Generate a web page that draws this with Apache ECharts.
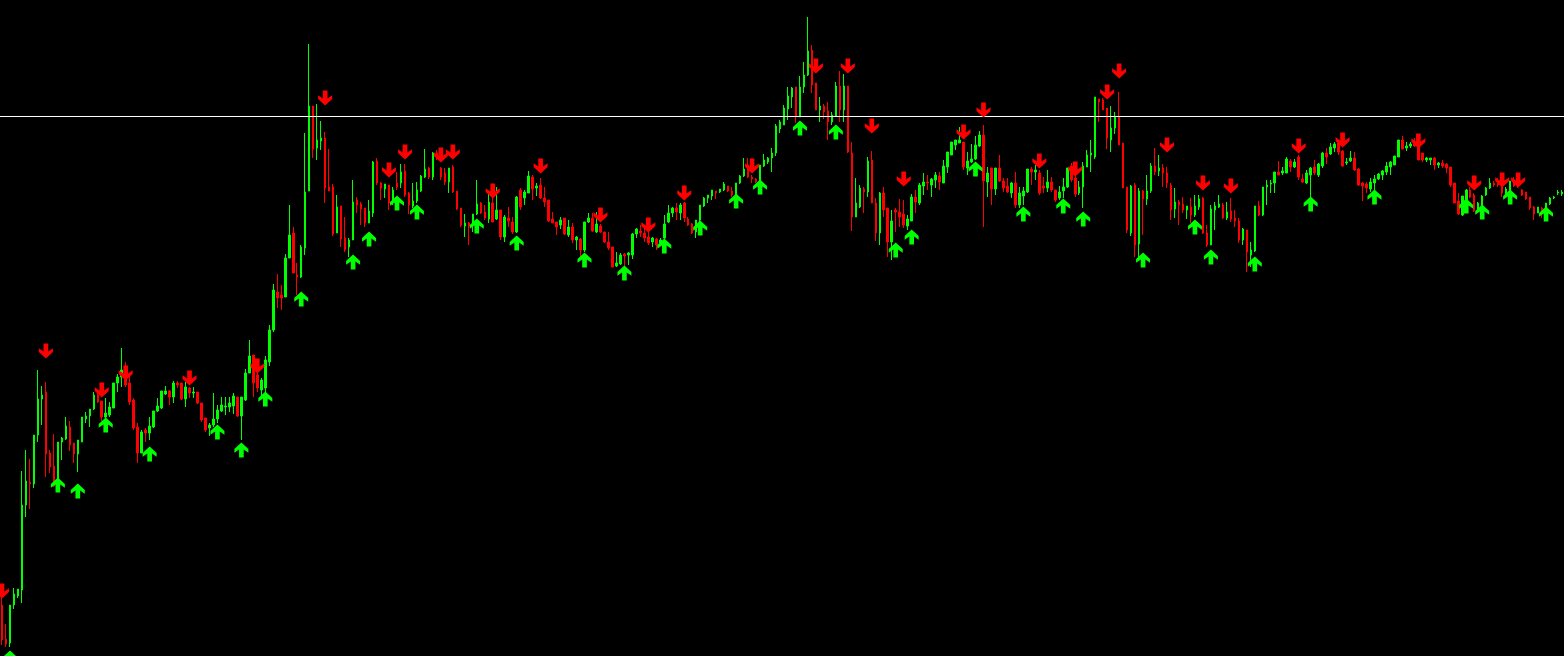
<!DOCTYPE html>
<html>
<head>
<meta charset="utf-8">
<style>
html,body{margin:0;padding:0;background:#000;}
#chart{width:1564px;height:656px;}
</style>
<script src="https://cdn.jsdelivr.net/npm/echarts@6/dist/echarts.min.js"></script>
</head>
<body>
<div id="chart"></div>
<script>
// OHLC candles: [open, close, low, high] (price units)
const candles = [
[51,16,11,58],[17,12,9,32],[13,51,9,51],[51,62,47,68],[60,67,58,67],[66,151,53,185],[151,175,139,206],[174,172,147,197],
[172,221,168,221],[221,257,214,286],[257,261,231,270],[264,202,179,274],[203,189,183,206],[190,170,169,222],[170,214,168,214],[214,218,196,219],
[217,230,216,239],[229,211,205,235],[213,202,193,213],[202,216,184,216],[214,239,214,239],[237,240,233,244],[240,247,229,247],[247,261,246,264],
[261,254,253,263],[255,239,235,255],[239,243,234,258],[241,249,239,254],[248,273,248,273],[273,279,264,282],[279,286,269,308],[287,271,269,294],
[273,254,251,281],[256,228,226,258],[229,203,193,233],[203,224,203,226],[226,223,214,228],[223,230,216,239],[229,245,228,245],[245,250,244,258],
[248,265,247,265],[262,265,261,270],[265,259,251,266],[259,273,253,275],[273,271,268,275],[273,257,256,273],[257,269,249,274],[268,263,258,269],
[263,264,258,269],[264,253,252,264],[253,236,234,253],[238,226,224,238],[228,231,220,233],[231,237,229,263],[237,246,233,251],[245,251,244,259],
[249,250,241,259],[249,253,244,259],[250,260,242,263],[259,240,239,259],[240,259,216,259],[256,283,255,287],[283,300,283,316],[301,273,259,301],
[281,268,264,284],[266,276,260,278],[268,296,264,300],[294,326,290,331],[326,366,324,372],[364,358,348,382],[361,358,346,371],[359,398,359,402],
[398,421,398,451],[423,383,383,429],[381,379,361,393],[379,409,378,411],[408,464,401,523],[465,550,465,612],[550,507,498,550],[508,516,496,552],
[515,518,506,535],[518,468,453,524],[469,465,465,507],[469,422,420,472],[423,449,423,461],[450,417,409,450],[418,406,404,439],[409,416,399,418],
[416,454,416,476],[456,451,443,459],[452,447,431,454],[448,433,429,448],[433,445,433,456],[443,494,439,495],[495,473,471,498],[473,468,456,474],
[467,472,458,472],[471,453,446,471],[454,466,451,469],[473,469,466,484],[473,484,468,492],[485,461,459,492],[463,451,442,464],[450,455,448,473],
[455,466,453,474],[465,480,464,481],[479,487,478,507],[488,479,477,489],[479,503,476,504],[503,498,496,506],[488,479,476,489],[483,474,471,488],
[474,488,463,488],[489,464,463,491],[465,447,446,465],[448,431,429,448],[430,433,419,442],[433,430,411,434],[433,442,424,442],[442,452,441,476],
[453,443,442,454],[444,438,436,451],[437,454,433,464],[453,434,434,469],[437,446,436,469],[446,419,416,446],[419,439,414,441],[438,435,429,449],
[434,424,422,439],[424,459,423,460],[466,449,446,468],[458,464,451,466],[463,480,463,485],[479,467,456,481],[468,470,460,473],[471,458,457,478],
[458,454,449,469],[456,435,434,456],[437,433,433,444],[434,429,421,434],[431,436,427,439],[438,422,421,438],[421,429,419,436],[429,416,413,433],
[416,419,406,420],[417,406,399,418],[406,434,404,434],[434,438,433,443],[438,425,424,443],[424,432,423,444],[430,424,423,432],[424,414,413,424],
[414,408,406,424],[409,389,389,409],[390,393,389,404],[392,401,391,403],[402,400,389,403],[401,403,391,404],[401,422,397,423],[422,427,418,428],
[425,423,419,431],[423,418,414,428],[419,413,411,429],[414,418,409,419],[417,411,406,418],[413,416,410,418],[418,432,414,441],[434,443,433,451],
[443,448,439,449],[448,444,436,453],[443,451,436,453],[453,438,434,454],[437,431,430,439],[432,423,422,433],[424,436,418,436],[436,451,426,451],
[450,458,449,459],[458,461,453,461],[460,466,456,466],[465,463,457,465],[464,467,463,467],[466,472,465,474],[470,465,464,470],[465,461,459,469],
[461,473,453,473],[473,480,472,481],[480,487,479,498],[491,479,478,498],[479,477,473,481],[477,474,473,478],[474,491,466,491],[490,496,489,502],
[494,498,492,499],[498,503,484,508],[503,530,500,532],[527,534,523,536],[531,548,531,551],[547,560,536,569],[559,568,548,569],[569,539,533,569],
[539,569,539,580],[569,581,563,594],[581,605,580,639],[606,571,563,611],[573,546,546,573],[546,550,534,559],[550,544,537,552],[545,534,516,554],
[534,541,531,544],[540,570,539,574],[570,546,534,585],[546,570,534,582],[570,504,503,570],[503,439,425,514],[439,453,439,478],[449,468,448,471],
[467,464,443,469],[464,495,459,499],[496,453,453,505],[453,423,415,458],[423,463,411,464],[463,446,439,469],[448,414,399,448],[414,435,396,446],
[446,444,424,448],[444,439,429,457],[442,431,428,456],[430,437,426,441],[435,459,435,462],[459,454,443,466],[453,471,451,473],[470,474,461,483],
[474,473,466,481],[471,477,459,478],[476,481,468,484],[480,474,466,484],[473,490,473,496],[489,504,483,504],[501,514,501,514],[511,516,506,516],
[513,516,513,529],[514,489,486,514],[488,495,481,504],[494,497,493,512],[497,511,496,520],[510,521,509,525],[521,475,429,531],[474,483,459,489],
[488,467,451,488],[467,488,461,488],[488,475,474,501],[475,468,464,478],[470,464,463,478],[463,473,458,474],[473,451,448,484],[451,463,448,469],
[460,465,451,469],[464,487,463,487],[487,484,471,489],[484,486,476,491],[483,463,461,486],[470,468,463,479],[468,474,464,486],[474,466,464,479],
[466,456,454,466],[458,464,456,470],[465,469,458,478],[469,488,468,488],[490,476,474,493],[478,462,459,486],[463,469,461,475],[469,490,448,494],
[489,501,489,506],[501,503,484,516],[499,559,497,559],[557,554,534,557],[556,546,546,558],[548,518,507,548],[516,528,504,550],[528,539,522,544],
[539,511,511,564],[513,468,468,513],[469,426,423,469],[423,470,420,471],[471,411,399,473],[412,465,399,468],[465,457,421,466],[457,465,451,481],
[465,490,463,493],[490,484,481,508],[485,488,480,501],[488,483,469,492],[483,473,468,489],[471,446,436,473],[447,454,438,468],[454,451,431,456],
[452,446,443,459],[446,450,437,450],[449,441,433,458],[441,450,439,461],[449,457,446,461],[458,423,422,459],[423,411,409,431],[411,447,411,451],
[446,450,426,454],[449,452,448,461],[451,438,437,453],[438,444,436,454],[445,437,434,458],[438,435,429,446],[435,416,413,438],[416,427,411,428],
[426,404,384,426],[401,406,389,414],[405,450,404,450],[450,441,440,455],[441,469,440,469],[469,471,451,476],[472,473,463,476],[473,484,463,484],
[484,481,481,495],[483,485,481,489],[483,497,483,499],[495,489,484,497],[489,494,488,497],[499,479,476,501],[477,474,473,482],[473,483,472,486],
[481,488,459,489],[489,483,481,496],[481,492,479,493],[490,503,488,504],[503,499,492,508],[502,509,501,513],[508,512,504,514],[513,504,501,514],
[505,490,489,506],[493,494,491,498],[495,498,494,505],[498,486,485,504],[487,471,470,488],[473,470,455,474],[472,468,463,474],[467,474,464,478],
[473,477,466,481],[477,482,476,483],[481,485,476,486],[484,490,481,494],[489,494,481,495],[491,500,491,500],[499,516,499,516],[516,507,507,520],
[508,510,505,514],[510,512,508,514],[512,510,509,518],[511,496,496,513],[503,496,494,503],[496,498,494,499],[496,498,491,498],[498,491,486,499],
[491,493,488,494],[493,490,488,496],[492,488,483,493],[489,471,469,489],[473,453,453,473],[455,442,441,463],[441,460,440,460],[456,466,453,467],
[466,459,458,469],[461,445,444,463],[445,453,444,454],[451,460,450,461],[461,468,460,469],[468,473,467,478],[473,471,469,475],[473,471,469,478],
[473,463,459,474],[463,467,462,469],[463,475,463,475],[476,470,469,479],[473,469,468,476],[466,461,460,467],[464,457,456,464],[459,448,446,459],
[449,442,436,450],[443,449,443,449],[448,446,438,449],[446,453,444,453],[452,458,451,459],[458,459,457,460],[463,464,461,466],[462,464,460,466]
];

// Bar index labels
const categories = candles.map((_, i) => String(i + 1));

// Sell signals (down arrows): [bar index, price]
const sellSignals = [
[0,65],[11,305],[25,266],[31,283],[47,278],[64,290],[81,558],[97,486],[101,504],[110,501],[113,504],
[123,465],[135,490],[150,441],[162,431],[171,463],[188,490],[204,590],[212,590],[218,530],[226,477],
[241,524],[246,546],[260,495],[269,487],[277,564],[280,585],[292,511],[301,473],[308,470],[325,510],
[336,516],[355,515],[369,473],[376,476],[380,476]
];

// Buy signals (up arrows): [bar index, price]
const buySignals = [
[2,-2],[14,171],[19,165],[26,231],[37,202],[54,224],[60,206],[66,257],[75,357],[88,394],[92,417],
[99,453],[104,444],[119,430],[129,413],[146,396],[156,383],[166,410],[175,428],[184,455],[190,469],
[200,528],[209,524],[224,406],[228,419],[244,487],[256,442],[266,450],[271,437],[286,396],[299,429],
[303,399],[314,392],[328,452],[344,459],[367,450],[371,444],[378,459],[387,442]
];

// Horizontal price level
const priceLevel = 539.5;

const UP = '#00ff00';
const DOWN = '#ff0000';
const upArrow = 'path://M6,0 L12,6 L12,9.5 L8,6.5 L8,14 L4,14 L4,6.5 L0,9.5 L0,6 Z';
const downArrow = 'path://M6,14 L12,8 L12,4.5 L8,7.5 L8,0 L4,0 L4,7.5 L0,4.5 L0,8 Z';

const n = categories.length;
const band = 4;
const gridLeft = -1.5;
const gridRight = 1564 - gridLeft - n * band;

const chart = echarts.init(document.getElementById('chart'), null, {renderer: 'canvas'});
chart.setOption({
  backgroundColor: '#000000',
  animation: false,
  grid: {left: gridLeft, right: gridRight, top: 0, bottom: 0, containLabel: false},
  xAxis: {
    type: 'category',
    data: categories,
    boundaryGap: true,
    show: false
  },
  yAxis: {
    type: 'value',
    min: 0,
    max: 656,
    show: false,
    splitLine: {show: false}
  },
  series: [
    {
      type: 'candlestick',
      data: candles,
      barWidth: 2,
      itemStyle: {
        color: UP,
        color0: DOWN,
        borderColor: UP,
        borderColor0: DOWN,
        borderWidth: 1,
        opacity: 1
      },
      markLine: {
        silent: true,
        symbol: ['none', 'none'],
        label: {show: false},
        lineStyle: {color: '#ffffff', width: 1, type: 'solid', opacity: 1},
        emphasis: {disabled: true},
        data: [{yAxis: priceLevel}]
      }
    },
    {
      type: 'scatter',
      data: sellSignals,
      symbol: downArrow,
      symbolSize: [14, 15],
      clip: false,
      itemStyle: {color: DOWN, opacity: 1},
      z: 5
    },
    {
      type: 'scatter',
      data: buySignals,
      symbol: upArrow,
      symbolSize: [14, 15],
      clip: false,
      itemStyle: {color: UP, opacity: 1},
      z: 5
    }
  ]
});
</script>
</body>
</html>
